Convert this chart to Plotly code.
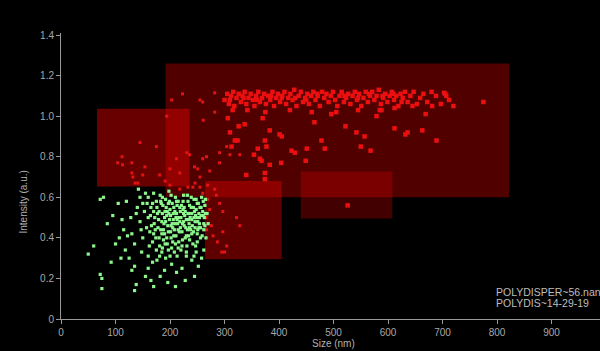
import plotly.graph_objects as go

# ---------------- data ----------------
green_points = [
    (50,0.32),(72,0.59),(78,0.60),(85,0.47),(100,0.37),(105,0.57),(92,0.28),(75,0.15),(72,0.22),(75,0.20),
    (120,0.58),(115,0.44),(118,0.34),(125,0.30),(130,0.24),(135,0.26),(138,0.17),(135,0.14),(140,0.55),(145,0.48),
    (150,0.40),(148,0.33),(155,0.21),(160,0.25),(165,0.19),(170,0.16),(176,0.29),(182,0.21),(190,0.24),(196,0.18),
    (203,0.27),(212,0.23),(222,0.25),(230,0.31),(240,0.29),(252,0.26),(262,0.34),(142,0.64),(138,0.52),(128,0.50),
    (122,0.41),(112,0.49),(107,0.40),(110,0.30),(60,0.36),(95,0.51),(130,0.42),(135,0.37),(160,0.31),(168,0.28),
    (185,0.33),(200,0.31),(215,0.35),(250,0.38),(258,0.30),(245,0.21),(228,0.19),(210,0.16),
    (160,0.60),(165,0.55),(170,0.62),(172,0.50),(175,0.58),(178,0.45),(180,0.53),(182,0.61),(185,0.48),(187,0.56),
    (190,0.42),(192,0.59),(194,0.51),(196,0.46),(198,0.63),(200,0.54),(202,0.40),(204,0.57),(206,0.49),(208,0.44),
    (210,0.60),(212,0.52),(214,0.47),(216,0.38),(218,0.55),(220,0.50),(222,0.43),(224,0.58),(226,0.46),(228,0.53),
    (230,0.41),(232,0.61),(234,0.49),(236,0.56),(238,0.44),(240,0.52),(242,0.37),(244,0.59),(246,0.48),(248,0.54),
    (250,0.42),(252,0.57),(254,0.50),(256,0.45),(258,0.60),(260,0.53),(262,0.47),(264,0.56),(266,0.40),
    (163,0.43),(168,0.38),(171,0.47),(174,0.40),(177,0.52),(181,0.36),(184,0.57),(188,0.39),(191,0.53),(195,0.37),
    (199,0.49),(203,0.35),(207,0.55),(211,0.41),(215,0.58),(219,0.45),(223,0.39),(227,0.51),(231,0.36),(235,0.47),
    (239,0.60),(243,0.43),(247,0.36),(251,0.48),(255,0.55),(259,0.41),(263,0.50),
    (186,0.52),(189,0.47),(193,0.55),(197,0.43),(201,0.51),(205,0.45),(209,0.53),(213,0.49),(217,0.43),(221,0.56),
    (225,0.48),(229,0.45),(233,0.52),(237,0.50),(241,0.46),(245,0.53),(249,0.50),(253,0.45),(257,0.51),(261,0.58),
    (176,0.55),(183,0.44),(190,0.50),(197,0.57),(204,0.47),(211,0.50),(218,0.48),(225,0.52),(232,0.44),(239,0.55),
    (246,0.45),(253,0.52),(160,0.50),(166,0.46),(153,0.53),(157,0.45),(150,0.57),(147,0.44),(145,0.60),(155,0.62),
    (162,0.36),(186,0.35),(205,0.38),(220,0.34),(236,0.39),(248,0.33),(213,0.31),(192,0.30),(175,0.34),(262,0.44),
    (268,0.52),(265,0.59),(270,0.47),
    (179,0.49),(183,0.58),(188,0.44),(192,0.48),(195,0.53),(199,0.58),(202,0.46),(206,0.52),(209,0.47),(213,0.56),
    (216,0.50),(219,0.53),(223,0.47),(226,0.55),(230,0.49),(233,0.58),(236,0.45),(240,0.49),(243,0.55),(247,0.51),
    (250,0.57),(254,0.47),(257,0.55),(261,0.51),(264,0.46),(185,0.42),(194,0.40),(207,0.41),(215,0.44),(228,0.40),
    (240,0.42),(251,0.44),(170,0.53),(173,0.44),(168,0.57),(198,0.52),(212,0.58),(224,0.54),(235,0.52),(244,0.50),
    (180,0.40),(191,0.37),(201,0.43),(210,0.37),(222,0.36),(234,0.41),(256,0.40),(265,0.52),(202,0.61),(225,0.61),
    (248,0.59),(186,0.60),(158,0.57),(164,0.51),(170,0.42),(208,0.33),(230,0.33),(244,0.31),(197,0.34),(181,0.31),
]

red_band_points = [
    (300,1.08),(305,1.11),(308,1.06),(312,1.10),(316,1.12),(318,1.05),(322,1.09),(326,1.11),(330,1.07),(333,1.10),
    (337,1.12),(340,1.06),(344,1.09),(348,1.11),(352,1.08),(355,1.05),(358,1.10),(362,1.12),(365,1.07),(369,1.09),
    (373,1.11),(376,1.06),(380,1.10),(384,1.08),(388,1.12),(391,1.05),(395,1.09),(398,1.11),(402,1.07),(406,1.10),
    (410,1.12),(413,1.06),(417,1.09),(421,1.11),(425,1.08),(428,1.13),(432,1.05),(436,1.10),(440,1.12),(444,1.07),
    (448,1.09),(452,1.11),(455,1.06),(459,1.10),(463,1.12),(467,1.08),(471,1.10),(475,1.05),(479,1.12),(483,1.09),
    (487,1.11),(491,1.07),(495,1.10),(499,1.12),(503,1.08),(507,1.05),(511,1.10),(515,1.12),(519,1.07),(523,1.09),
    (527,1.11),(531,1.06),(535,1.10),(539,1.12),(543,1.08),(547,1.11),(551,1.05),(555,1.09),(559,1.12),(563,1.07),
    (567,1.10),(571,1.12),(575,1.08),(579,1.10),(583,1.13),(587,1.06),(591,1.09),(595,1.11),(599,1.07),(603,1.10),
    (607,1.12),(611,1.08),(615,1.10),(619,1.05),(623,1.11),(627,1.09),(631,1.12),(636,1.07),(641,1.10),(647,1.12),
    (653,1.06),(659,1.09),(665,1.11),(672,1.07),(680,1.12),(688,1.10),(697,1.06),(705,1.11),(712,1.08),(720,1.05),
    (775,1.07),
    (310,1.08),(335,1.09),(360,1.08),(385,1.10),(405,1.09),(430,1.09),(450,1.08),(470,1.11),(520,1.10),(545,1.09),
    (565,1.11),(590,1.10),(610,1.11),(625,1.07),(315,1.03),(342,1.03),(375,1.02),(420,1.03),(460,1.02),(505,1.02),
    (545,1.03),(585,1.03),(612,1.04),(645,1.05),(669,1.01),(681,1.05),(703,1.115),(707,1.10),(579,1.00),(588,1.03),
    (306,0.99),(310,0.92),(313,0.85),(319,0.88),(324,0.88),(326,0.95),(337,0.96),(354,0.81),(361,0.84),(365,0.79),
    (368,0.78),(370,0.99),(374,0.88),(377,0.85),(383,0.93),(401,0.91),(404,0.77),(405,0.90),(423,0.83),(429,0.82),
    (449,0.78),(451,0.84),(465,0.97),(478,0.88),(484,0.84),(496,1.01),(522,0.95),(542,0.92),(550,0.85),(557,0.90),
    (568,0.83),(612,0.94),(632,0.91),(636,0.92),(663,0.93),(689,0.88),(526,0.56),(374,0.72),(383,0.76),(340,0.71),
    (374,0.69),
]

red_trail_points = [
    (104,0.77),(113,0.76),(112,0.80),(130,0.77),(130,0.72),(132,0.70),(136,0.67),(141,0.67),(145,0.87),(150,0.71),
    (154,0.75),(175,0.85),(181,0.71),(191,0.68),(194,1.00),(200,0.74),(200,0.66),(203,1.08),(212,0.79),(218,0.72),
    (218,0.64),(223,1.11),(231,0.82),(233,0.65),(236,0.81),(242,0.65),(245,0.75),(246,0.67),(251,0.74),(255,0.70),
    (255,1.08),(255,0.65),(260,1.07),(260,0.79),(260,0.62),(261,0.98),(266,0.50),(267,0.80),(267,0.44),(269,0.59),
    (269,0.66),(273,0.54),(273,0.73),(276,0.46),(279,0.41),(282,1.02),(282,0.64),(282,1.115),(285,0.61),(287,0.38),
    (291,0.57),(295,0.33),(297,0.53),(297,0.43),(322,0.50),(328,0.46),(304,0.85),(291,0.82),(310,0.81),(328,0.81),
    (291,0.77),(300,0.33),(304,0.36),
]

# rectangles: (x0, x1, y0, y1)
region_boxes = [
    (192, 822, 0.60, 1.26),
    (66, 236, 0.653, 1.037),
    (264, 405, 0.295, 0.68),
    (440, 608, 0.495, 0.727),
]
region_opacity = [0.37, 0.48, 0.43, 0.30]

x_ticks = [0, 100, 200, 300, 400, 500, 600, 700, 800, 900, 1000]
y_ticks = [0, 0.2, 0.4, 0.6, 0.8, 1.0, 1.2, 1.4]
y_tick_labels = ["0", "0.2", "0.4", "0.6", "0.8", "1.0", "1.2", "1.4"]

info_lines = ["POLYDISPER~56.nan", "POLYDIS~14-29-19"]

# ---------------- figure ----------------
fig = go.Figure()

fig.add_trace(go.Scatter(
    x=[p[0] for p in red_trail_points], y=[p[1] for p in red_trail_points],
    mode="markers", marker=dict(symbol="square", size=3, color="rgb(225,20,20)", line=dict(width=0)),
    showlegend=False, hoverinfo="skip"))
fig.add_trace(go.Scatter(
    x=[p[0] for p in red_band_points], y=[p[1] for p in red_band_points],
    mode="markers", marker=dict(symbol="square", size=4.5, color="rgb(235,15,15)", line=dict(width=0)),
    showlegend=False, hoverinfo="skip"))
fig.add_trace(go.Scatter(
    x=[p[0] for p in green_points], y=[p[1] for p in green_points],
    mode="markers", marker=dict(symbol="square", size=3.2, color="rgb(140,245,140)", line=dict(width=0)),
    showlegend=False, hoverinfo="skip"))

for (x0, x1, y0, y1), op in zip(region_boxes, region_opacity):
    fig.add_shape(type="rect", xref="x", yref="y", x0=x0, x1=x1, y0=y0, y1=y1,
                  fillcolor="rgb(220,0,0)", opacity=op, line=dict(width=0), layer="below")

axis_font = dict(family="Liberation Sans, Arial, sans-serif", size=10, color="#a8a8a8")

fig.update_layout(
    width=600, height=351,
    paper_bgcolor="black", plot_bgcolor="black",
    margin=dict(l=61, r=0, t=33, b=32),
    font=axis_font,
    xaxis=dict(range=[0, 989], tickvals=x_ticks, showgrid=False, zeroline=False,
               showline=True, linecolor="#9a9a9a", linewidth=1, automargin=False,
               ticks="outside", ticklen=4, tickcolor="#9a9a9a", tickfont=axis_font),
    yaxis=dict(range=[0, 1.41], tickvals=y_ticks, ticktext=y_tick_labels, showgrid=False, zeroline=False,
               showline=True, linecolor="#9a9a9a", linewidth=1, automargin=False,
               ticks="outside", ticklen=4, tickcolor="#9a9a9a", tickfont=axis_font),
)

fig.add_annotation(text="Size (nm)", xref="paper", yref="paper", x=0.505, y=-0.084,
                   showarrow=False, font=dict(family="Liberation Sans, Arial, sans-serif", size=10, color="#b0b0b0"),
                   xanchor="center", yanchor="middle")
fig.add_annotation(text="Intensity (a.u.)", xref="paper", yref="paper", x=-0.069, y=0.41,
                   showarrow=False, textangle=-90,
                   font=dict(family="Liberation Sans, Arial, sans-serif", size=10, color="#b0b0b0"),
                   xanchor="center", yanchor="middle")
for i, line in enumerate(info_lines):
    fig.add_annotation(text=line, xref="paper", yref="paper", x=0.803, y=0.094 - i * 0.038,
                       showarrow=False, xanchor="left", yanchor="middle",
                       font=dict(family="Liberation Sans, Arial, sans-serif", size=10.5, color="#bdbdbd"))

fig.write_html("out.html",
               config={"displayModeBar": False},
               post_script="document.body.style.margin='0';document.body.style.background='black';")
